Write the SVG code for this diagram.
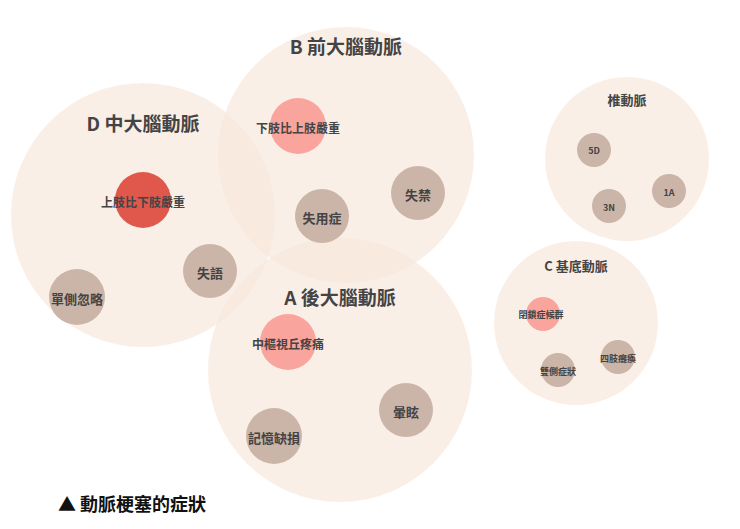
<svg xmlns="http://www.w3.org/2000/svg" width="740" height="529" viewBox="0 0 740 529">
<style>
.big{fill:#f7e6da;fill-opacity:0.65}
.g{fill:#cbb5a8}
.p{fill:#f9a49c}
.r{fill:#e0584c}
text{font-family:"Noto Sans CJK TC","Noto Sans",sans-serif;font-weight:bold;fill:#444;text-anchor:middle;dominant-baseline:central}
.t1{font-size:19px}
.t2{font-size:13px}
.t3{font-size:12px}
.t4{font-size:9px}
</style>
<rect width="740" height="529" fill="#fff"/>
<g id="D"><circle class="big" cx="143" cy="215" r="132"/><text class="t1" x="143" y="122">D 中大腦動脈</text></g>
<g id="B"><circle class="big" cx="346" cy="155" r="128"/><text class="t1" x="346" y="45">B  前大腦動脈</text></g>
<g id="A"><circle class="big" cx="340" cy="370" r="132"/><text class="t1" x="340" y="296">A  後大腦動脈</text></g>
<g id="V"><circle class="big" cx="627" cy="159" r="82"/><text class="t2" x="627" y="99">椎動脈</text></g>
<g id="C"><circle class="big" cx="576" cy="323" r="82"/><text class="t2" x="576" y="265">C  基底動脈</text></g>
<g id="n1"><circle class="r" cx="143" cy="200" r="28"/><text class="t3" x="143" y="201">上肢比下肢嚴重</text></g>
<g id="n2"><circle class="p" cx="298" cy="126" r="28"/><text class="t3" x="298" y="127">下肢比上肢嚴重</text></g>
<g id="n3"><circle class="p" cx="288" cy="342" r="28"/><text class="t3" x="288" y="343">中樞視丘疼痛</text></g>
<g id="n4"><circle class="g" cx="322" cy="216" r="27"/><text class="t2" x="322" y="217">失用症</text></g>
<g id="n5"><circle class="g" cx="418" cy="193" r="27"/><text class="t2" x="418" y="194">失禁</text></g>
<g id="n6"><circle class="g" cx="210" cy="271" r="27"/><text class="t2" x="210" y="272">失語</text></g>
<g id="n7"><circle class="g" cx="77" cy="297" r="28"/><text class="t2" x="77" y="298">單側忽略</text></g>
<g id="n8"><circle class="g" cx="406" cy="410" r="27"/><text class="t2" x="406" y="411">暈眩</text></g>
<g id="n9"><circle class="g" cx="274" cy="436" r="28"/><text class="t2" x="274" y="437">記憶缺損</text></g>
<g id="n10"><circle class="g" cx="594" cy="150" r="17"/><text class="t4" x="594" y="150">5D</text></g>
<g id="n11"><circle class="g" cx="609" cy="206" r="17"/><text class="t4" x="609" y="207">3N</text></g>
<g id="n12"><circle class="g" cx="669" cy="191" r="17"/><text class="t4" x="669" y="192">1A</text></g>
<g id="n13"><circle class="p" cx="543" cy="314" r="17"/><text class="t4" x="541" y="314">閉鎖症候群</text></g>
<g id="n14"><circle class="g" cx="558" cy="370" r="17"/><text class="t4" x="558" y="371">雙側症狀</text></g>
<g id="n15"><circle class="g" cx="618" cy="357" r="17"/><text class="t4" x="618" y="358">四肢癱瘓</text></g>
<g id="connectors"/>
<text x="58" y="503" style="font-size:18px;text-anchor:start;fill:#111">▲ 動脈梗塞的症狀</text>
</svg>
